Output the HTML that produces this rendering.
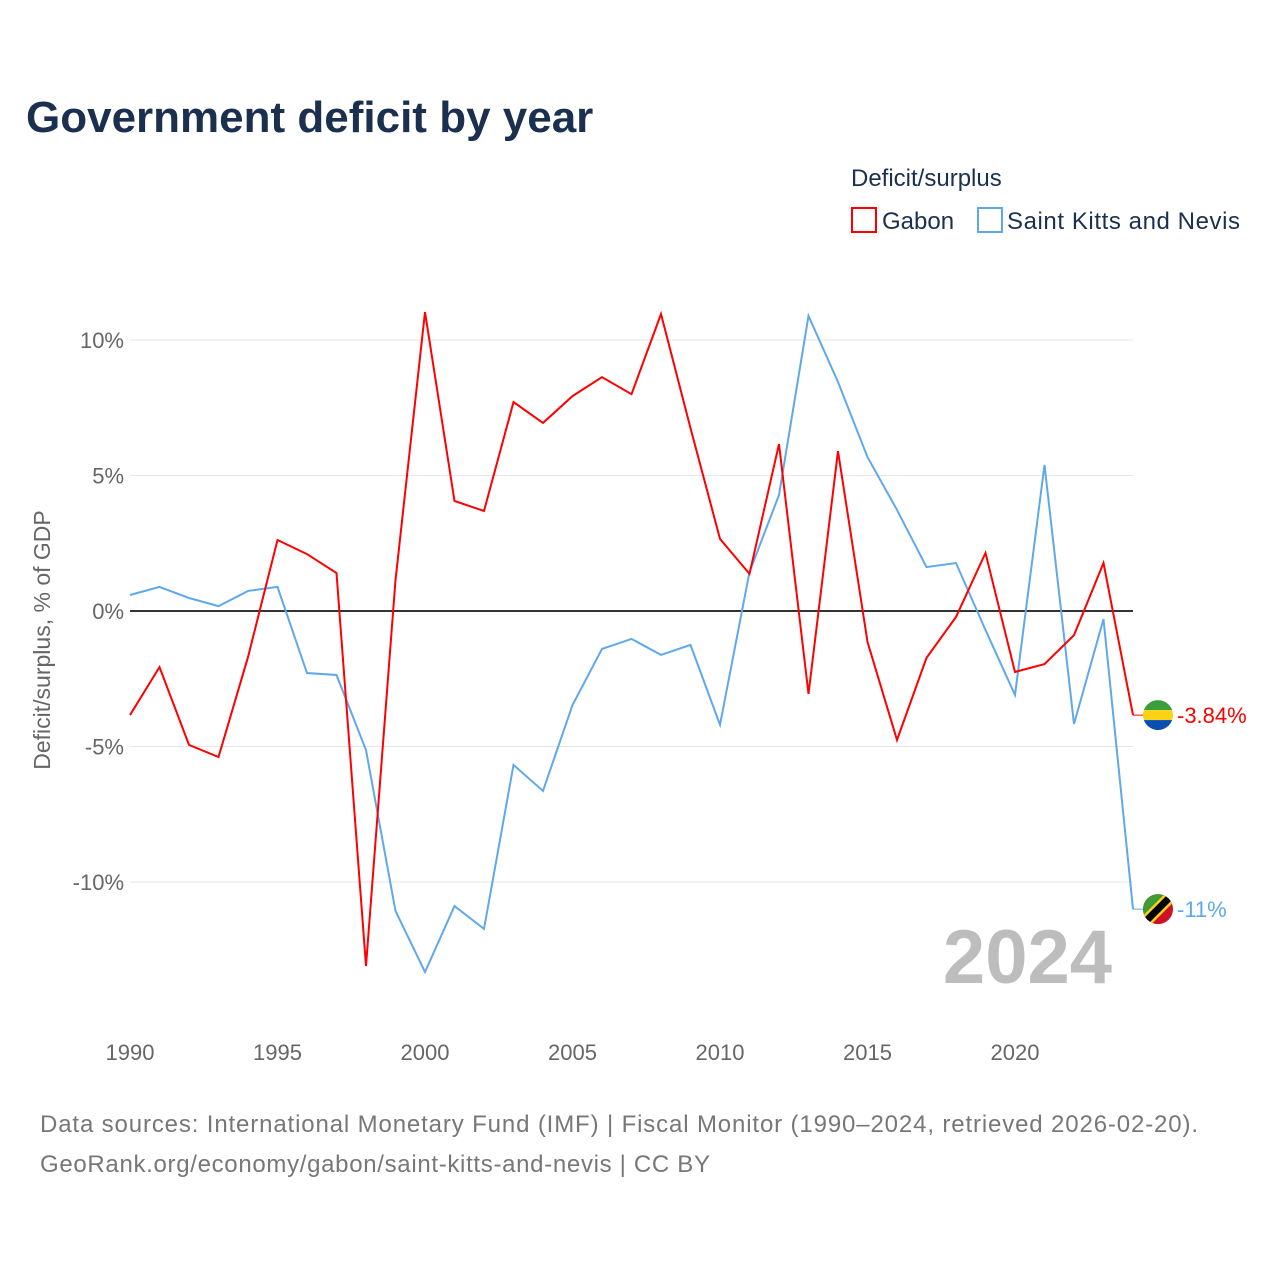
<!DOCTYPE html>
<html><head><meta charset="utf-8">
<style>
body{margin:0;background:#fff;font-family:"Liberation Sans",sans-serif;}
svg text{font-family:"Liberation Sans",sans-serif;}
</style></head>
<body>
<svg id="chart" width="1280" height="1280" viewBox="0 0 1280 1280" xmlns="http://www.w3.org/2000/svg">
<rect width="1280" height="1280" fill="#fff"/>
<text x="26" y="132" font-size="44" font-weight="bold" fill="#1b2f4e">Government deficit by year</text>
<text x="851" y="186" font-size="24" fill="#1b2f4e">Deficit/surplus</text>
<g>
<rect x="852" y="208" width="24" height="24" fill="none" stroke="#ff0000" stroke-width="2"/>
<text x="882" y="229" font-size="24" fill="#1b2f4e">Gabon</text></g>
<g>
<rect x="978" y="208" width="24" height="24" fill="none" stroke="#5fa8ec" stroke-width="2"/>
<text x="1007" y="229" font-size="24" fill="#1b2f4e" textLength="233">Saint Kitts and Nevis</text></g>
<g id="grid"></g>
<g id="ylabels"></g>
<g id="xlabels"></g>
<text transform="translate(50,640) rotate(-90)" text-anchor="middle" font-size="23" fill="#666">Deficit/surplus, % of GDP</text>
<text x="1112" y="983" text-anchor="end" font-size="76" font-weight="bold" fill="#bdbdbd">2024</text>
<g id="series"></g>
<g id="ends"></g>
<text x="40" y="1132" font-size="24" fill="#777" textLength="1158">Data sources: International Monetary Fund (IMF) | Fiscal Monitor (1990–2024, retrieved 2026-02-20).</text>
<text x="40" y="1172" font-size="24" fill="#777" textLength="670">GeoRank.org/economy/gabon/saint-kitts-and-nevis | CC BY</text>
</svg>
<script>
const years=[];for(let y=1990;y<=2024;y++)years.push(y);
const gabon=[-3.84,-2.07,-4.94,-5.39,-1.7,2.62,2.1,1.4,-13.1,1.14,11.03,4.06,3.69,7.71,6.94,7.93,8.63,8.0,10.96,6.75,2.66,1.37,6.16,-3.06,5.9,-1.14,-4.76,-1.73,-0.22,2.14,-2.25,-1.96,-0.89,1.77,-3.84];
const skn=[0.59,0.89,0.48,0.18,0.74,0.89,-2.29,-2.36,-5.13,-11.07,-13.32,-10.89,-11.73,-5.68,-6.64,-3.47,-1.4,-1.03,-1.62,-1.25,-4.2,1.44,4.28,10.89,8.45,5.68,3.73,1.62,1.77,-0.7,-3.1,5.39,-4.17,-0.3,-11.0];
const yTicks=[10,5,0,-5,-10];
const xTicks=[1990,1995,2000,2005,2010,2015,2020];
const endLabels=["-3.84%","-11%"];
const NS="http://www.w3.org/2000/svg";
const X=y=>130+(y-1990)*(1133-130)/34;
const Y=v=>611-v*27.1;
function mk(t,a,p){const e=document.createElementNS(NS,t);for(const k in a)e.setAttribute(k,a[k]);p.appendChild(e);return e;}
const grid=document.getElementById('grid'),yl=document.getElementById('ylabels'),xl=document.getElementById('xlabels');
yTicks.forEach(v=>{
 const l=mk('line',{x1:130,x2:1133,y1:Y(v),y2:Y(v),stroke:v===0?'#333':'#e6e6e6','stroke-width':v===0?2:1},grid);
 
 
 const t=mk('text',{x:124,y:Y(v)+8,'text-anchor':'end','font-size':22,fill:'#666'},yl);
 t.textContent=v+'%';
 
 
});
xTicks.forEach(v=>{
 const t=mk('text',{x:X(v),y:1060,'text-anchor':'middle','font-size':22,fill:'#666'},xl);
 t.textContent=v;
 
 
});
const sg=document.getElementById('series');
[[skn,'#5fa8ec','line-saint-kitts'],[gabon,'#ff0000','line-gabon']].forEach(([d,c,n])=>{
 const p=mk('polyline',{points:d.map((v,i)=>X(years[i])+','+Y(v)).join(' '),fill:'none',stroke:c,'stroke-width':2},sg);
 
 
});
const eg=document.getElementById('ends');
const gy=Y(gabon[gabon.length-1]),sy=Y(skn[skn.length-1]);
const fx=1158;
mk('line',{x1:1133,x2:fx,y1:gy,y2:gy,stroke:'#ff0000','stroke-width':1},eg);
mk('line',{x1:1133,x2:fx,y1:sy,y2:sy,stroke:'#5fa8ec','stroke-width':1},eg);
const cg=mk('clipPath',{id:'cg'},eg);mk('circle',{cx:fx,cy:gy,r:15},cg);
const g1=mk('g',{'clip-path':'url(#cg)'},eg);


mk('rect',{x:fx-15,y:gy-15,width:30,height:10,fill:'#3a9e3a'},g1);
mk('rect',{x:fx-15,y:gy-5,width:30,height:10,fill:'#fcd116'},g1);
mk('rect',{x:fx-15,y:gy+5,width:30,height:10,fill:'#0a4fb0'},g1);
const cs=mk('clipPath',{id:'cs'},eg);mk('circle',{cx:fx,cy:sy,r:15},cs);
const g2=mk('g',{'clip-path':'url(#cs)'},eg);


mk('rect',{x:fx-15,y:sy-15,width:30,height:30,fill:'#ce1126'},g2);
mk('polygon',{points:`${fx-15},${sy-15} ${fx+15},${sy-15} ${fx-15},${sy+15}`,fill:'#3f9c35'},g2);
mk('line',{x1:fx-16,y1:sy+16,x2:fx+16,y2:sy-16,stroke:'#fcd116','stroke-width':12},g2);
mk('line',{x1:fx-16,y1:sy+16,x2:fx+16,y2:sy-16,stroke:'#000','stroke-width':7},g2);
[[gy,'#ff0000',endLabels[0],'end-label-gabon'],[sy,'#5fa8ec',endLabels[1],'end-label-saint-kitts']].forEach(([y,c,s,n])=>{
 const t=mk('text',{x:1177,y:y+8,'font-size':22,fill:c},eg);
 t.textContent=s;
 
 
});
</script>
</body></html>
